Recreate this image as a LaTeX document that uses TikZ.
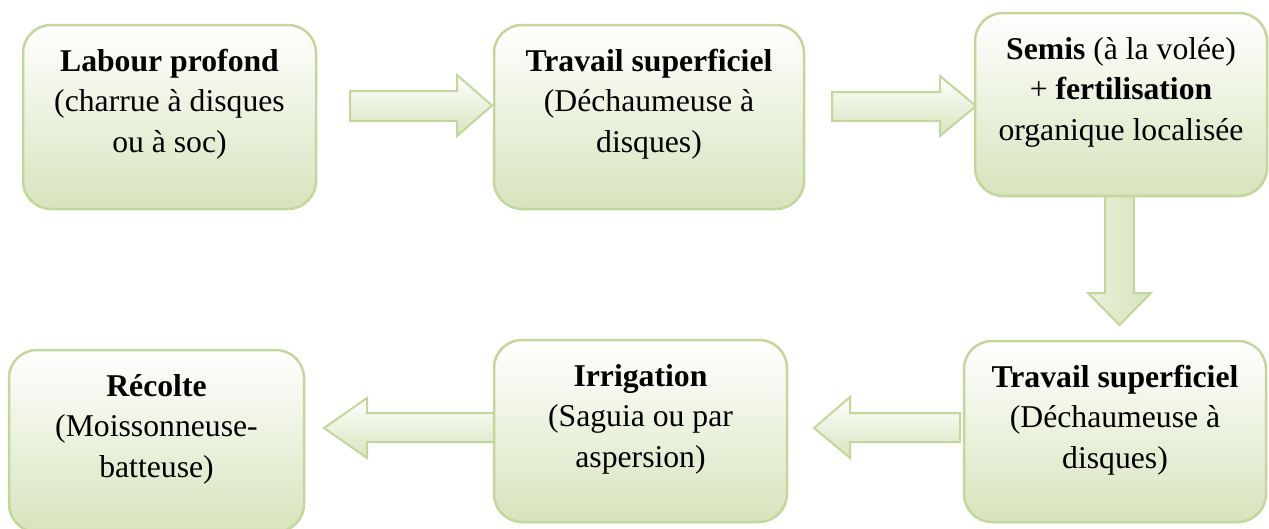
\documentclass[tikz,border=0pt]{standalone}
\usepackage{fontspec}
\setmainfont{Liberation Serif}
\definecolor{bd}{HTML}{C3D69B}
\definecolor{fl}{HTML}{D7E4BD}
\tikzset{
  stepbox/.style={draw=bd, line width=2.5pt, rounded corners=28pt, top color=white, bottom color=fl,
    inner sep=0pt, rectangle},
  txt/.style={align=center, inner sep=0pt, anchor=north, font=\fontsize{31.7pt}{40.5pt}\selectfont},
  blockarrow/.style={draw=bd, line width=2pt, line join=miter, top color=white, bottom color=fl},
  blockarrowv/.style={draw=bd, line width=2pt, line join=miter, left color=white!45!fl, right color=fl}
}
\begin{document}
\begin{tikzpicture}[x=1pt,y=-1pt]
\useasboundingbox (0,0) rectangle (1269,528);
% block arrows
\draw[blockarrow] (350,91) -- (457,91) -- (457,75) -- (492,105.5) -- (457,136) -- (457,121) -- (350,121) -- cycle;
\draw[blockarrow] (832,92) -- (940,92) -- (940,76) -- (976,106) -- (940,136) -- (940,121) -- (832,121) -- cycle;
\draw[blockarrowv] (1105,195) -- (1134,195) -- (1134,293) -- (1151,293) -- (1119.5,325) -- (1088,293) -- (1105,293) -- cycle;
\draw[blockarrow] (960,413) -- (850,413) -- (850,397) -- (814,428) -- (850,458) -- (850,442) -- (960,442) -- cycle;
\draw[blockarrow] (494,413) -- (367,413) -- (367,398) -- (324,428) -- (367,458) -- (367,442) -- (494,442) -- cycle;
% boxes
\node[stepbox, minimum width=293pt, minimum height=184pt] (b1) at (169.5,117) {};
\node[stepbox, minimum width=310pt, minimum height=184pt] (b2) at (649,117) {};
\node[stepbox, minimum width=292pt, minimum height=183pt] (b3) at (1121,104.5) {};
\node[stepbox, minimum width=302pt, minimum height=181pt] (b4) at (1115,431.5) {};
\node[stepbox, minimum width=293pt, minimum height=182pt] (b5) at (640.5,431) {};
\node[stepbox, minimum width=295pt, minimum height=182pt] (b6) at (156.5,441) {};
% texts
\node[txt] (t1) at ([yshift=-18.9pt]b1.north) {\strut\textbf{Labour profond}\\(charrue à disques\\ou à soc)};
\node[txt] (t2) at ([yshift=-18.9pt]b2.north) {\strut\textbf{Travail superficiel}\\(Déchaumeuse à\\disques)};
\node[txt] (t3) at ([yshift=-18.9pt]b3.north) {\strut\textbf{Semis} (à la volée)\\+ \textbf{fertilisation}\\organique localisée};
\node[txt] (t4) at ([yshift=-18.9pt]b4.north) {\strut\textbf{Travail superficiel}\\(Déchaumeuse à\\disques)};
\node[txt] (t5) at ([yshift=-18.9pt]b5.north) {\strut\textbf{Irrigation}\\(Saguia ou par\\aspersion)};
\node[txt] (t6) at ([yshift=-18.9pt]b6.north) {\strut\textbf{Récolte}\\(Moissonneuse-\\batteuse)};
\end{tikzpicture}
\end{document}
